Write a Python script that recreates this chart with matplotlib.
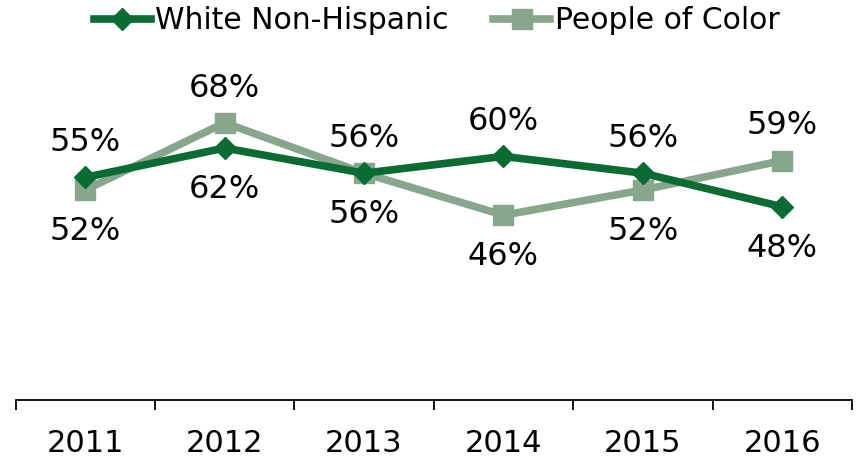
import matplotlib.pyplot as plt
import numpy as np

# 데이터
years = ['2011', '2012', '2013', '2014', '2015', '2016']
white = [55, 62, 56, 60, 56, 48]
poc = [52, 68, 56, 46, 52, 59]

dark = '#0a6b33'
light = '#87a68b'
fs = 23

plt.rcParams['font.family'] = ['DejaVu Sans']

fig = plt.figure(figsize=(8.56, 4.59), dpi=100)
ax = fig.add_axes([15.5/856, 1-400/459, (852-15.5)/856, (400-64)/459])

x = np.arange(len(years))
ax.plot(x, white, color=dark, lw=5.5, marker='D', ms=11.5, label='White Non-Hispanic', zorder=3)
ax.plot(x, poc, color=light, lw=5.5, marker='s', ms=14, label='People of Color', zorder=2)

# 값 라벨: 큰 값은 위, 작은 값은 아래
up, dn = 25, -30
for i in range(len(years)):
    w_up = white[i] >= poc[i]
    ax.annotate(f'{white[i]}%', (x[i], white[i]), xytext=(0, up if w_up else dn),
                textcoords='offset points', ha='center', va='center', fontsize=fs)
    ax.annotate(f'{poc[i]}%', (x[i], poc[i]), xytext=(0, dn if w_up else up),
                textcoords='offset points', ha='center', va='center', fontsize=fs)

ax.set_xlim(-0.5, len(years) - 0.5)
ax.set_ylim(2, 82)
ax.set_xticks(x)
ax.set_xticklabels(years, fontsize=22)
ax.set_xticks(np.arange(-0.5, len(years)), minor=True)
ax.tick_params(axis='x', which='major', length=0, pad=21)
ax.tick_params(axis='x', which='minor', length=7.5, width=1.3, direction='out')
ax.set_yticks([])
for s in ['top', 'right', 'left']:
    ax.spines[s].set_visible(False)
ax.spines['bottom'].set_linewidth(1.3)

fig.legend(loc='upper center', bbox_to_anchor=(0.51, 1.045), ncol=2, frameon=False,
           fontsize=21.5, handlelength=1.9, handletextpad=0.15, columnspacing=1.5)

fig.savefig('out.png', dpi=100)
